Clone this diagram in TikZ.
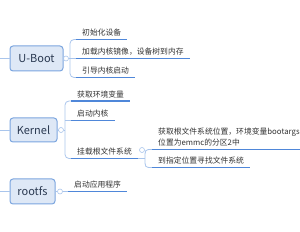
\documentclass[tikz,border=0pt]{standalone}
\usepackage{fontspec}
\setmainfont{Noto Sans CJK SC}
\usepackage{xcolor}
\usepackage{tikz}
\usetikzlibrary{positioning}

\definecolor{boxfill}{HTML}{DEE8F6}
\definecolor{boxline}{HTML}{7BA5DF}
\definecolor{boxtext}{HTML}{2B3A52}
\definecolor{ulinecol}{HTML}{4F87D9}
\definecolor{branchcol}{HTML}{A9C5EC}
\definecolor{txtcol}{HTML}{333333}

\begin{document}
\begin{tikzpicture}[x=1pt, y=-1pt,
            stage/.style={rectangle, draw=boxline, line width=1pt, fill=boxfill, rounded corners=3pt, minimum height=25pt, font=\fontsize{11}{13}\selectfont, text=boxtext},
            topic/.style={anchor=south west, inner xsep=6pt, inner ysep=3pt, font=\fontsize{7.8}{11}\selectfont, text=txtcol, align=left},
            uline/.style={draw=ulinecol, line width=1.3pt},
            branch/.style={draw=branchcol, line width=0.8pt},
            fold/.style={circle, draw=branchcol, fill=white, line width=0.6pt, inner sep=0pt, minimum size=5pt}
        ]
            \clip (0,0) rectangle (300,232);
            
            % main stages
            \node[stage, minimum width=53pt] (uboot) at (36.5,58.5) {U-Boot};
            \node[stage, minimum width=47pt, minimum height=24pt] (kernel) at (33.5,130) {Kernel};
            \node[stage, minimum width=45pt] (rootfs) at (32.5,191.5) {rootfs};
            
            \coordinate (ubin) at (0,58.5);
            \coordinate (kin) at (0,130);
            \coordinate (rin) at (0,191.5);
            \draw[branch] (ubin) -- (uboot);
            \draw[branch] (kin) -- (kernel);
            \draw[branch] (rin) -- (rootfs);
            
            % U-Boot
            \node[fold] (ubfold) at (66,58.5) {};
            \coordinate (ubfork) at (70,58.5);
            \node[topic] (ub1) at (76,39.5) {初始化设备};
            \node[topic] (ub2) at (76,58.5) {加载内核镜像，设备树到内存};
            \node[topic] (ub3) at (76,77.5) {引导内核启动};
            \draw[branch] (uboot) -- (ubfold);
            \draw[branch, rounded corners=4pt] (ub1.south west) -| (ubfork) |- (ub3.south west);
            \draw[branch] (ubfold) -- (ub2.south west);
            
            % Kernel
            \node[fold] (kfold) at (61,130) {};
            \coordinate (kfork) at (65,130);
            \node[topic] (k1) at (71,101) {获取环境变量};
            \node[topic] (k2) at (71,120.5) {启动内核};
            \node[topic] (k3) at (71,158.5) {挂载根文件系统};
            \draw[branch] (kernel) -- (kfold);
            \draw[branch, rounded corners=4pt] (k1.south west) -| (kfork) |- (k3.south west);
            \draw[branch] (kfold) -- (kfork);
            \draw[branch] (kfork |- k2.south west) -- (k2.south west);
            
            % mount rootfs
            \node[fold] (mfold) at (142,150) {};
            \coordinate (mfork) at (145,158.5);
            \node[topic] (m1) at (152,149.5) {获取根文件系统位置，环境变量bootargs中\\位置为emmc的分区2中};
            \node[topic] (m2) at (152,167.5) {到指定位置寻找文件系统};
            \draw[branch] (k3.south east) -- (mfork);
            \draw[branch] (mfork) .. controls (145,149.5) .. (m1.south west);
            \draw[branch] (mfork) .. controls (145,167.5) .. (m2.south west);
            
            % rootfs
            \node[fold] (rfold) at (60,191.5) {};
            \node[topic] (r1) at (68,191.5) {启动应用程序};
            \draw[branch] (rootfs) -- (rfold);
            \draw[branch] (rfold) -- (r1.south west);
            
            \foreach \n in {ub1,ub2,ub3,k1,k2,k3,m1,m2,r1}
                \draw[uline] (\n.south west) -- (\n.south east);
            
        \end{tikzpicture}
\end{document}
